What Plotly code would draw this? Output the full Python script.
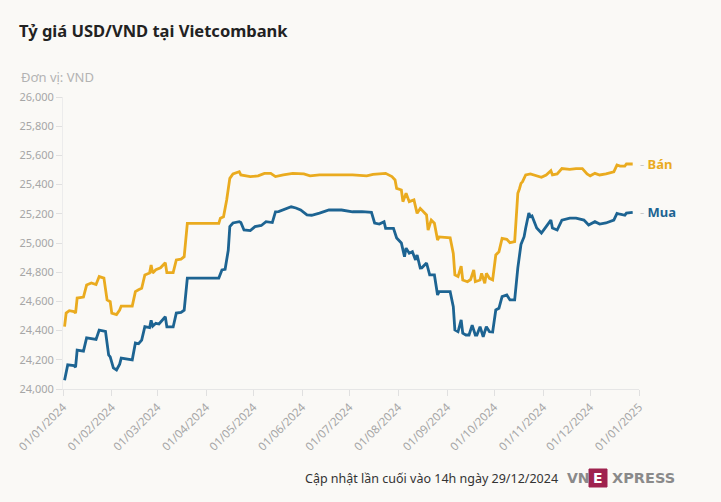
import plotly.graph_objects as go

mua_dates = ["2024-01-02","2024-01-04","2024-01-08","2024-01-09","2024-01-10","2024-01-14","2024-01-16","2024-01-22","2024-01-24","2024-01-28",
"2024-01-30","2024-01-31","2024-02-02","2024-02-04","2024-02-06","2024-02-07","2024-02-14","2024-02-16","2024-02-18","2024-02-20",
"2024-02-22","2024-02-25","2024-02-26","2024-02-27","2024-02-29","2024-03-02","2024-03-06","2024-03-07","2024-03-11","2024-03-13",
"2024-03-16","2024-03-18","2024-03-20","2024-04-09","2024-04-11","2024-04-13","2024-04-15","2024-04-16","2024-04-18","2024-04-22",
"2024-04-23","2024-04-25","2024-04-29","2024-05-02","2024-05-06","2024-05-09","2024-05-13","2024-05-15","2024-05-17","2024-05-21",
"2024-05-25","2024-05-28","2024-05-31","2024-06-04","2024-06-07","2024-06-12","2024-06-18","2024-06-26","2024-07-03","2024-07-09",
"2024-07-15","2024-07-17","2024-07-20","2024-07-23","2024-07-24","2024-07-26","2024-07-29","2024-07-31","2024-08-03","2024-08-05",
"2024-08-06","2024-08-08","2024-08-10","2024-08-12","2024-08-13","2024-08-15","2024-08-16","2024-08-19","2024-08-21","2024-08-24",
"2024-08-26","2024-08-27","2024-09-03","2024-09-05","2024-09-06","2024-09-08","2024-09-10","2024-09-11","2024-09-13","2024-09-15",
"2024-09-17","2024-09-19","2024-09-20","2024-09-22","2024-09-24","2024-09-26","2024-09-28","2024-09-30","2024-10-02","2024-10-04",
"2024-10-06","2024-10-09","2024-10-11","2024-10-14","2024-10-16","2024-10-18","2024-10-20","2024-10-21","2024-10-23","2024-10-24",
"2024-10-25","2024-10-28","2024-10-31","2024-11-03","2024-11-06","2024-11-07","2024-11-10","2024-11-13","2024-11-18","2024-11-22",
"2024-11-27","2024-11-30","2024-12-04","2024-12-07","2024-12-11","2024-12-16","2024-12-18","2024-12-20","2024-12-23","2024-12-24",
"2024-12-28"]
mua_values = [24060,24165,24160,24150,24267,24260,24350,24340,24404,24395,
24233,24220,24144,24130,24170,24212,24200,24315,24310,24335,
24427,24420,24470,24430,24450,24445,24495,24425,24425,24520,
24525,24540,24760,24760,24815,24820,24950,25112,25137,25146,
25140,25089,25085,25112,25120,25146,25140,25214,25215,25230,
25248,25240,25226,25192,25190,25205,25226,25226,25214,25215,
25210,25137,25130,25146,25100,25100,25100,25034,25000,24906,
24965,24930,24940,24884,24918,24829,24830,24863,24781,24781,
24644,24667,24667,24564,24404,24392,24473,24382,24370,24370,
24438,24370,24370,24427,24358,24427,24392,24390,24541,24553,
24633,24644,24610,24610,24830,24990,25043,25103,25205,25180,
25185,25103,25068,25112,25157,25103,25089,25157,25170,25170,
25157,25123,25146,25130,25137,25157,25203,25197,25190,25205,
25210]

ban_dates = ["2024-01-02","2024-01-03","2024-01-05","2024-01-08","2024-01-09","2024-01-10","2024-01-14","2024-01-16","2024-01-19","2024-01-22",
"2024-01-24","2024-01-27","2024-01-29","2024-01-31","2024-02-01","2024-02-04","2024-02-06","2024-02-07","2024-02-14","2024-02-16",
"2024-02-18","2024-02-20","2024-02-22","2024-02-25","2024-02-26","2024-02-27","2024-02-29","2024-03-03","2024-03-06","2024-03-07",
"2024-03-11","2024-03-13","2024-03-16","2024-03-18","2024-03-20","2024-04-09","2024-04-10","2024-04-12","2024-04-14","2024-04-16",
"2024-04-18","2024-04-22","2024-04-23","2024-04-29","2024-05-04","2024-05-08","2024-05-12","2024-05-15","2024-05-20","2024-05-26",
"2024-06-02","2024-06-06","2024-06-12","2024-06-23","2024-07-03","2024-07-12","2024-07-16","2024-07-24","2024-07-26","2024-07-28",
"2024-07-30","2024-07-31","2024-08-03","2024-08-04","2024-08-06","2024-08-08","2024-08-11","2024-08-13","2024-08-15","2024-08-19",
"2024-08-20","2024-08-22","2024-08-24","2024-08-26","2024-08-27","2024-09-03","2024-09-05","2024-09-06","2024-09-08","2024-09-10",
"2024-09-11","2024-09-14","2024-09-16","2024-09-18","2024-09-19","2024-09-22","2024-09-23","2024-09-25","2024-09-26","2024-09-28",
"2024-09-30","2024-10-02","2024-10-04","2024-10-06","2024-10-09","2024-10-11","2024-10-14","2024-10-15","2024-10-16","2024-10-17",
"2024-10-18","2024-10-19","2024-10-21","2024-10-24","2024-10-28","2024-10-31","2024-11-03","2024-11-06","2024-11-07","2024-11-10",
"2024-11-13","2024-11-18","2024-11-22","2024-11-26","2024-11-29","2024-12-01","2024-12-04","2024-12-07","2024-12-11","2024-12-16",
"2024-12-18","2024-12-20","2024-12-23","2024-12-24","2024-12-28"]
ban_values = [24427,24520,24536,24530,24520,24623,24630,24712,24726,24715,
24770,24760,24610,24598,24520,24510,24541,24568,24568,24667,
24680,24690,24781,24795,24849,24795,24817,24830,24865,24797,
24797,24884,24890,24906,25135,25135,25170,25180,25295,25443,
25473,25488,25466,25455,25460,25477,25477,25455,25466,25477,
25473,25460,25466,25466,25466,25460,25470,25477,25466,25455,
25432,25374,25363,25283,25340,25283,25295,25203,25237,25192,
25089,25157,25135,25020,25042,25036,24929,24781,24770,24842,
24747,24735,24750,24815,24735,24747,24792,24724,24792,24758,
24747,24918,24940,25032,25025,25002,25009,25146,25340,25370,
25408,25420,25466,25473,25460,25450,25466,25495,25466,25473,
25510,25504,25510,25510,25473,25460,25477,25466,25473,25488,
25534,25527,25527,25541,25541]

series_names = ["Bán", "Mua"]
colors = {"Bán": "#EAAB1F", "Mua": "#1D6492"}

FONT = "Noto Sans"

fig = go.Figure()
fig.add_trace(go.Scatter(x=ban_dates, y=ban_values, mode="lines", name="Bán",
                         line=dict(color=colors["Bán"], width=2.8), hoverinfo="skip"))
fig.add_trace(go.Scatter(x=mua_dates, y=mua_values, mode="lines", name="Mua",
                         line=dict(color=colors["Mua"], width=2.8), hoverinfo="skip"))

for name, d, v in [("Bán", ban_dates, ban_values), ("Mua", mua_dates, mua_values)]:
    fig.add_annotation(x=d[-1], y=v[-1], xref="x", yref="y", xanchor="left", yanchor="middle",
                       xshift=5, showarrow=False,
                       text=f'<span style="color:#c8c8c8">-</span> <b>{name}</b>',
                       font=dict(family=FONT, size=13, color=colors[name]))

# unit label
fig.add_annotation(x=-0.0764, y=1.0685, xref="paper", yref="paper", xanchor="left", yanchor="middle",
                   showarrow=False, text="Đơn vị: VND", font=dict(family=FONT, size=13, color="#b3b3b3"))

# footer
fig.add_annotation(x=0.8628, y=-0.3048, xref="paper", yref="paper", xanchor="right", yanchor="middle",
                   showarrow=False, text="Cập nhật lần cuối vào 14h ngày 29/12/2024",
                   font=dict(family=FONT, size=12.5, color="#333333"))
# logo
fig.add_annotation(x=(565-63)/576, y=-0.3048, xref="paper", yref="paper", xanchor="left", yanchor="middle",
                   showarrow=False, text="<b>VN</b>", font=dict(family="DejaVu Sans", size=14, color="#8a8a8a"))
fig.add_shape(type="rect", xref="paper", yref="paper",
              x0=(589-63)/576, x1=(607-63)/576, y0=(389-487)/292, y1=(389-469)/292,
              fillcolor="#9F224E", line=dict(color="#9F224E", width=1))
fig.add_annotation(x=(598-63)/576, y=-0.3048, xref="paper", yref="paper", xanchor="center", yanchor="middle",
                   showarrow=False, text="<b>E</b>", font=dict(family="DejaVu Sans", size=14, color="#ffffff"))
fig.add_annotation(x=(610-63)/576, y=-0.3048, xref="paper", yref="paper", xanchor="left", yanchor="middle",
                   showarrow=False, text="<b>XPRESS</b>", font=dict(family="DejaVu Sans", size=14.5, color="#8a8a8a"))

fig.update_layout(
    width=721, height=502,
    margin=dict(l=63, r=82, t=97, b=113),
    paper_bgcolor="#FAF9F6", plot_bgcolor="#FAF9F6",
    showlegend=False,
    title=dict(text="<b>Tỷ giá USD/VND tại Vietcombank</b>", x=19/721, xref="container", xanchor="left",
               y=1-31/502, yref="container", yanchor="middle",
               font=dict(family=FONT, size=16.5, color="#222222")),
    font=dict(family=FONT),
)
fig.update_xaxes(range=["2024-01-01", "2025-01-01"], dtick="M1", tick0="2024-01-01", tickformat="%d/%m/%Y",
                 tickangle=-45, showgrid=False, zeroline=False, showline=True, linecolor="#e6e6e6", linewidth=1,
                 ticks="outside", ticklen=6, tickcolor="#e0e0e0",
                 tickfont=dict(family=FONT, size=11.5, color="#a6a6a6"))
fig.update_yaxes(range=[24000, 26000], dtick=200, tickformat=",d", showgrid=False, zeroline=False,
                 showline=True, linecolor="#ececec", linewidth=1,
                 ticks="outside", ticklen=6, tickcolor="#e0e0e0",
                 tickfont=dict(family=FONT, size=11, color="#a6a6a6"))

fig.write_html("out.html")
